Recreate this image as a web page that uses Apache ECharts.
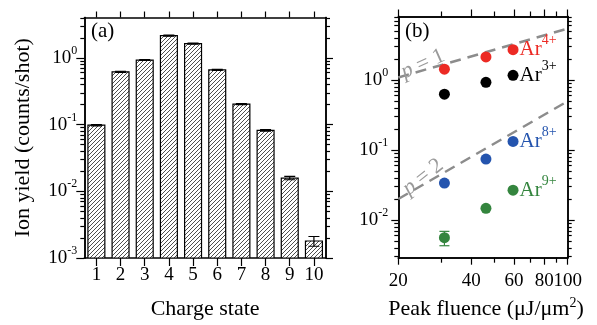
<!DOCTYPE html>
<html><head><meta charset="utf-8">
<script src="https://cdn.jsdelivr.net/npm/echarts@6/dist/echarts.min.js"></script>
<style>html,body{margin:0;padding:0;background:#fff}#c{width:597px;height:325px}</style>
</head><body><div id="c"></div>
<script>
// ---------- data ----------
const chargeStates = ['1','2','3','4','5','6','7','8','9','10'];
const ionYield     = [0.098, 0.62, 0.93, 2.16, 1.64, 0.66, 0.203, 0.082, 0.0158, 0.0018];
const ionYieldErr  = [0.002, 0.012, 0.015, 0.04, 0.03, 0.012, 0.004, 0.002, 0.0009, 0.0003];

const fluence = [31, 46, 59.5];
const ar4 = [1.43, 2.14, 2.72];
const ar3 = [0.63, 0.93, 1.17];
const ar8 = [0.0338, 0.0745, 0.133];
const ar9 = [0.0056, 0.0147, 0.0267];
const ar9Err = [0.0013, 0, 0];

const guideP1 = [[20, 1.09], [100, 5.45]];
const guideP2 = [[20, 0.02], [100, 0.5]];

const leftMajor  = [0.001, 0.01, 0.1, 1];
const leftMinor  = [0.002,0.003,0.004,0.005,0.006,0.007,0.008,0.009,0.02,0.03,0.04,0.05,0.06,0.07,0.08,0.09,0.2,0.3,0.4,0.5,0.6,0.7,0.8,0.9,2,3,4];
const rightYMajor = [0.01, 0.1, 1];
const rightYMinor = [0.003,0.004,0.005,0.006,0.007,0.008,0.009,0.02,0.03,0.04,0.05,0.06,0.07,0.08,0.09,0.2,0.3,0.4,0.5,0.6,0.7,0.8,0.9,2,3,4,5,6,7,8];
const rightXMajor = [20, 40, 60, 80, 100];
const rightXMinor = [30, 50, 70, 90];

// ---------- styles ----------
const serif = "'Liberation Serif','Times New Roman',serif";
const yMinA = 0.001, yMaxA = 4.04;
const yMinB = 0.0029, yMaxB = 8.1;
const xMinB = 20, xMaxB = 100.02;
const RED = '#ec2a24', BLACK = '#000', BLUE = '#2454ae', GREEN = '#34853e', GUIDE = '#8c8c8c';

// hatch pattern
const hc = document.createElement('canvas'); hc.width = 4; hc.height = 4;
const hg = hc.getContext('2d');
hg.fillStyle = '#fff'; hg.fillRect(0,0,4,4);
hg.strokeStyle = '#222'; hg.lineWidth = 0.8;
hg.beginPath();
hg.moveTo(0,4); hg.lineTo(4,0);
hg.moveTo(-1,1); hg.lineTo(1,-1);
hg.moveTo(3,5); hg.lineTo(5,3);
hg.stroke();
const hatch = { image: hc, repeat: 'repeat' };

const lineStyleAx = { color: '#000', width: 1.5 };
function decFmt(v) { return '{b|10}{s|' + Math.round(Math.log10(v)) + '}'; }
const decRich = {
  b: { fontFamily: serif, fontSize: 19, color: '#000' },
  s: { fontFamily: serif, fontSize: 12, color: '#000', padding: [0, 0, 14, 0] }
};

function tickAxis(base, pos, vals, len, grid, extra) {
  return Object.assign({
    type: base.type, gridIndex: grid, position: pos, min: base.min, max: base.max,
    axisLine: { show: true, onZero: false, lineStyle: lineStyleAx },
    splitLine: { show: false },
    axisLabel: { show: false },
    axisTick: { show: true, inside: false, length: len, customValues: vals, lineStyle: { color: '#000', width: 1.2 } }
  }, extra || {});
}

const yA = { type: 'log', min: yMinA, max: yMaxA };
const yB = { type: 'log', min: yMinB, max: yMaxB };
const xB = { type: 'log', min: xMinB, max: xMaxB };

const option = {
  animation: false,
  backgroundColor: '#fff',
  grid: [
    { left: 84.3, top: 17.5, width: 241.7, height: 240.8 },
    { left: 398.3, top: 16.5, width: 169.4, height: 241.2 }
  ],
  xAxis: [
    { type: 'category', gridIndex: 0, position: 'bottom', data: chargeStates,
      axisLine: { show: true, onZero: false, lineStyle: lineStyleAx },
      axisTick: { show: true, alignWithLabel: true, interval: 0, length: 8, lineStyle: { color: '#000', width: 1.2 } },
      axisLabel: { interval: 0, fontFamily: serif, fontSize: 19, color: '#000', margin: 8 },
      splitLine: { show: false },
      name: 'Charge state', nameLocation: 'middle', nameGap: 40,
      nameTextStyle: { fontFamily: serif, fontSize: 22, color: '#000' } },
    { type: 'category', gridIndex: 0, position: 'top', data: chargeStates,
      axisLine: { show: true, onZero: false, lineStyle: lineStyleAx },
      axisTick: { show: true, alignWithLabel: true, interval: 0, length: 6, lineStyle: { color: '#000', width: 1.2 } },
      axisLabel: { show: false }, splitLine: { show: false } },
    tickAxis(xB, 'bottom', rightXMajor, 7, 1),
    tickAxis(xB, 'bottom', rightXMinor, 5, 1),
    tickAxis(xB, 'top', rightXMajor, 7, 1),
    tickAxis(xB, 'top', rightXMinor, 5, 1)
  ],
  yAxis: [
    tickAxis(yA, 'left', leftMajor, 8, 0, {
      axisLabel: { show: true, customValues: leftMajor, formatter: decFmt, rich: decRich, margin: 7 },
      name: 'Ion yield (counts/shot)', nameLocation: 'middle', nameGap: 50,
      nameTextStyle: { fontFamily: serif, fontSize: 22, color: '#000' } }),
    tickAxis(yA, 'left', leftMinor, 4, 0),
    tickAxis(yA, 'right', leftMajor, 7, 0),
    tickAxis(yA, 'right', leftMinor, 4, 0),
    tickAxis(yB, 'left', rightYMajor, 7, 1, {
      axisLabel: { show: true, customValues: rightYMajor, formatter: decFmt, rich: decRich, margin: 10 } }),
    tickAxis(yB, 'left', rightYMinor, 4, 1),
    tickAxis(yB, 'right', rightYMajor, 7, 1),
    tickAxis(yB, 'right', rightYMinor, 4, 1)
  ],
  graphic: [
    { type: 'text', id: 'ga', left: 91, top: 21, style: { text: '(a)', fontFamily: serif, fontSize: 21, fill: '#000' }, z: 100 },
    { type: 'text', id: 'gb', left: 405, top: 21, style: { text: '(b)', fontFamily: serif, fontSize: 21, fill: '#000' }, z: 100 },
    { type: 'text', id: 'gp1', x: 423, y: 64, rotation: 24 * Math.PI / 180,
      style: { text: '{i|p} = 1', fontFamily: serif, fontSize: 22, fill: '#9a9a9a', align: 'center', verticalAlign: 'middle',
        rich: { i: { fontStyle: 'italic', fontFamily: serif, fontSize: 22, fill: '#9a9a9a', color: '#9a9a9a' } } }, z: 100 },
    { type: 'text', id: 'gp2', x: 423, y: 177, rotation: 38 * Math.PI / 180,
      style: { text: '{i|p} = 2', fontFamily: serif, fontSize: 22, fill: '#9a9a9a', align: 'center', verticalAlign: 'middle',
        rich: { i: { fontStyle: 'italic', fontFamily: serif, fontSize: 22, fill: '#9a9a9a', color: '#9a9a9a' } } }, z: 100 },
    { type: 'text', id: 'xname', x: 486, y: 309,
      style: { text: 'Peak fluence (μJ/μm{s|2})', fontFamily: serif, fontSize: 22, fill: '#000', align: 'center', verticalAlign: 'middle',
        rich: { s: { fontFamily: serif, fontSize: 14, fill: '#000', color: '#000', padding: [0, 0, 12, 0] } } }, z: 100 }
  ],
  series: [
    { type: 'custom', xAxisIndex: 0, yAxisIndex: 0, clip: true,
      data: chargeStates.map((c, i) => [i, ionYield[i]]),
      renderItem: function (params, api) {
        const x = api.value(0), y = api.value(1);
        const top = api.coord([x, y]);
        const base = api.coord([x, yMinA]);
        const w = api.size([1, 0])[0] * 0.7;
        return { type: 'rect', shape: { x: top[0] - w / 2, y: top[1], width: w, height: base[1] - top[1] },
          style: { fill: hatch, stroke: '#000', lineWidth: 1.2 } };
      } },
    { type: 'custom', xAxisIndex: 0, yAxisIndex: 0, clip: true, z: 3,
      data: chargeStates.map((c, i) => [i, ionYield[i], ionYieldErr[i]]),
      renderItem: function (params, api) {
        const x = api.value(0), y = api.value(1), e = api.value(2);
        const hi = api.coord([x, y + e]), lo = api.coord([x, y - e]);
        const hw = 5.5;
        const st = { stroke: '#000', lineWidth: 1.2 };
        return { type: 'group', children: [
          { type: 'line', shape: { x1: hi[0], y1: hi[1], x2: lo[0], y2: lo[1] }, style: st },
          { type: 'line', shape: { x1: hi[0] - hw, y1: hi[1], x2: hi[0] + hw, y2: hi[1] }, style: st },
          { type: 'line', shape: { x1: lo[0] - hw, y1: lo[1], x2: lo[0] + hw, y2: lo[1] }, style: st }
        ] };
      } },
    { type: 'line', xAxisIndex: 2, yAxisIndex: 4, data: guideP1, symbol: 'none', silent: true, z: 1,
      lineStyle: { color: GUIDE, width: 2.5, type: [11, 7] } },
    { type: 'line', xAxisIndex: 2, yAxisIndex: 4, data: guideP2, symbol: 'none', silent: true, z: 1,
      lineStyle: { color: GUIDE, width: 2.5, type: [11, 7] } },
    { type: 'custom', xAxisIndex: 2, yAxisIndex: 4, z: 3,
      data: fluence.map((f, i) => [f, ar9[i], ar9Err[i]]),
      renderItem: function (params, api) {
        const x = api.value(0), y = api.value(1), e = api.value(2);
        if (!e) return null;
        const hi = api.coord([x, y + e]), lo = api.coord([x, y - e]);
        const hw = 5;
        const st = { stroke: GREEN, lineWidth: 1.2 };
        return { type: 'group', children: [
          { type: 'line', shape: { x1: hi[0], y1: hi[1], x2: lo[0], y2: lo[1] }, style: st },
          { type: 'line', shape: { x1: hi[0] - hw, y1: hi[1], x2: hi[0] + hw, y2: hi[1] }, style: st },
          { type: 'line', shape: { x1: lo[0] - hw, y1: lo[1], x2: lo[0] + hw, y2: lo[1] }, style: st }
        ] };
      } }
  ].concat([
    [ar4, RED, '4+'], [ar3, BLACK, '3+'], [ar8, BLUE, '8+'], [ar9, GREEN, '9+']
  ].map(([vals, col, ch]) => ({
    type: 'scatter', xAxisIndex: 2, yAxisIndex: 4, symbol: 'circle', symbolSize: 11, z: 5,
    itemStyle: { color: col, opacity: 1 },
    data: fluence.map((f, i) => ({
      value: [f, vals[i]],
      label: i === fluence.length - 1 ? {
        show: true, position: 'right', distance: 1,
        formatter: '{a|Ar}{s|' + ch + '}',
        rich: { a: { fontFamily: serif, fontSize: 21, color: col },
                s: { fontFamily: serif, fontSize: 14, color: col, padding: [0, 0, 18, 0] } }
      } : { show: false }
    }))
  })))
};

const chart = echarts.init(document.getElementById('c'), null, { renderer: 'canvas' });
chart.setOption(option);

// Tick labels of the fluence axis, positioned through the axis' own log scale
// (drawn as text on a top layer so the overlapping "80100" of the original is kept).
let xLabelEls = [];
try {
  xLabelEls = rightXMajor.map((v, i) => {
    let px = chart.convertToPixel({ xAxisIndex: 2 }, v);
    if (Array.isArray(px)) px = px[0];
    return { type: 'text', id: 'xl' + i, x: px, y: 281.5, zlevel: 5, z: 200,
      style: { text: String(v), fontFamily: serif, fontSize: 19, fill: '#000', align: 'center', verticalAlign: 'middle' } };
  });
} catch (e) { xLabelEls = []; }
if (xLabelEls.length) {
  option.graphic = option.graphic.concat(xLabelEls);
  chart.setOption(option, true);
}
</script>
</body></html>
